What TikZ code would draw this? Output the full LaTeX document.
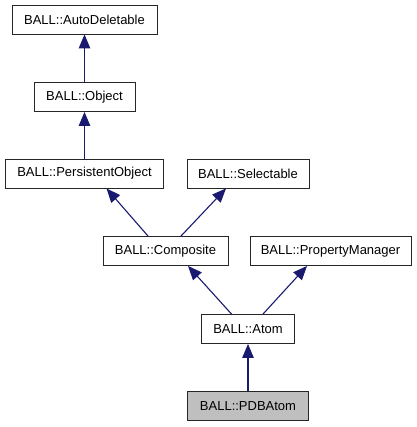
\documentclass[tikz,border=0pt]{standalone}
\usepackage{fontspec}
\setmainfont{Liberation Sans}
\usetikzlibrary{arrows.meta}
\definecolor{edgeblue}{RGB}{25,25,112}
\definecolor{hilite}{RGB}{191,191,191}
\begin{document}
\begin{tikzpicture}[x=1pt,y=1pt,
  cls/.style={draw=black!85,line width=0.9pt,fill=white,minimum height=29pt,inner sep=0pt,
    font=\fontsize{13}{15}\selectfont},
  edge/.style={draw=edgeblue,line width=1.1pt,-{Triangle[length=14pt,width=11.5pt]}}]
\useasboundingbox (0,0) rectangle (416,427);
\node[cls,minimum width=145pt] (ad) at (84.5,407.5) {BALL::AutoDeletable};
\node[cls,minimum width=101pt] (obj) at (84.5,330) {BALL::Object};
\node[cls,minimum width=158pt] (po) at (84.5,253.5) {BALL::PersistentObject};
\node[cls,minimum width=122pt] (sel) at (248,253.5) {BALL::Selectable};
\node[cls,minimum width=125pt] (comp) at (165.5,176) {BALL::Composite};
\node[cls,minimum width=161pt] (pm) at (330.5,176) {BALL::PropertyManager};
\node[cls,minimum width=93pt] (atom) at (248,98) {BALL::Atom};
\node[cls,minimum width=121pt,fill=hilite] (pdb) at (248,21) {BALL::PDBAtom};
\draw[edge] (obj.north) -- (ad.south);
\draw[edge] (po.north) -- (obj.south);
\draw[edge] ([xshift=-17.5pt]comp.north) -- ([xshift=22pt]po.south);
\draw[edge] ([xshift=15.5pt]comp.north) -- ([xshift=-22pt]sel.south);
\draw[edge] ([xshift=-16.5pt]atom.north) -- ([xshift=22.5pt]comp.south);
\draw[edge] ([xshift=15pt]atom.north) -- ([xshift=-23.5pt]pm.south);
\draw[edge] (pdb.north) -- (atom.south);
\end{tikzpicture}
\end{document}
